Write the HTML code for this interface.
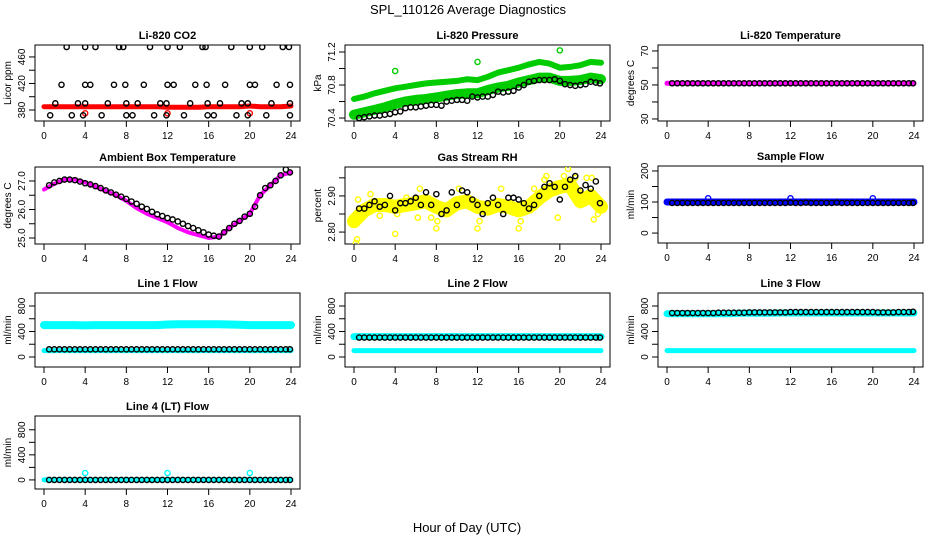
<!DOCTYPE html>
<html><head><meta charset="utf-8"><style>
html,body{margin:0;padding:0;background:#fff;}
svg{display:block;font-family:"Liberation Sans",sans-serif;}
</style></head><body>
<svg id="chart" width="936" height="540" viewBox="0 0 936 540">
<text x="468" y="14" text-anchor="middle" font-size="13">SPL_110126  Average Diagnostics</text>
<text x="467" y="532" text-anchor="middle" font-size="13">Hour of Day (UTC)</text>
</svg>
<script>
const HOURS = [0.5,1,1.5,2,2.5,3,3.5,4,4.5,5,5.5,6,6.5,7,7.5,8,8.5,9,9.5,10,10.5,11,11.5,12,12.5,13,13.5,14,14.5,15,15.5,16,16.5,17,17.5,18,18.5,19,19.5,20,20.5,21,21.5,22,22.5,23,23.5,23.9];
const BAND_HOURS = [0,1,2,3,4,5,6,7,8,9,10,11,12,13,14,15,16,17,18,19,20,21,22,23,24];
const X_TICKS = [0,4,8,12,16,20,24];

const co2Hours = [2.2,4,5,7.3,7.7,10.3,12,13.2,15.4,15.7,18.2,20,21.2,23.2,23.8, 1.7,4,4.5,6.8,7.9,9.7,12,12.6,14.7,15.8,17.6,20,20.5,22.6,23.9, 1.1,3.3,4,6.2,8,9.1,11.3,11.9,14.2,15.9,17.1,19.2,19.8,22.1,23.9, 0.6,2.7,3.8,5.6,8,8.6,10.7,11.9,13.6,15.9,16.5,18.7,19.8,21.6,23.9];
const co2Vals = [475,475,475,475,475,475,475,475,475,475,475,475,475,475,475, 418,418,418,418,418,418,418,418,418,418,418,418,418,418,418, 390,390,390,390,390,390,390,390,390,390,390,390,390,390,390, 372,372,372,372,372,372,372,372,372,372,372,372,372,372,372];
const co2Band = [385,385,385,385,385,385,385,385,385,385,385,385,384,384,384,384,385,385,385,385,386,385,385,385,386];
const co2RedOut = [[4,375],[12,375],[20,375]];

const presBlack = [70.40,70.41,70.42,70.43,70.43,70.44,70.45,70.47,70.48,70.52,70.53,70.53,70.54,70.55,70.56,70.56,70.55,70.60,70.61,70.62,70.62,70.61,70.66,70.65,70.66,70.66,70.68,70.72,70.71,70.72,70.73,70.77,70.80,70.84,70.85,70.86,70.86,70.86,70.87,70.85,70.81,70.80,70.79,70.80,70.81,70.84,70.83,70.82];
const presLow = [70.44,70.47,70.50,70.53,70.57,70.60,70.62,70.63,70.65,70.67,70.69,70.70,70.70,70.74,70.77,70.79,70.83,70.86,70.89,70.89,70.85,70.85,70.86,70.89,70.87];
const presHigh = [70.63,70.66,70.70,70.73,70.76,70.78,70.80,70.82,70.83,70.84,70.85,70.87,70.86,70.90,70.95,70.98,71.01,71.05,71.08,71.06,71.01,71.02,71.04,71.08,71.07];
const presOut = [[4,70.97],[12,71.08],[20,71.22]];

const ltempBand = [51,51,51,51,51,51,51,51,51,51,51,51,51,51,51,51,51,51,51,51,51,51,51,51,51];
const ltempBlack = [51,51,51,51,51,51,51,51,51,51,51,51,51,51,51,51,51,51,51,51,51,51,51,51,51,51,51,51,51,51,51,51,51,51,51,51,51,51,51,51,51,51,51,51,51,51,51,51];

const ambBand = [26.7,26.9,27.05,27.05,26.95,26.8,26.65,26.5,26.3,26.05,25.85,25.7,25.55,25.35,25.2,25.1,25.0,25.05,25.35,25.6,25.85,26.5,26.85,27.2,27.3];
const ambBlack = [26.85,26.95,27.0,27.05,27.05,27.03,26.98,26.92,26.88,26.82,26.75,26.67,26.6,26.52,26.45,26.37,26.28,26.2,26.1,26.02,25.92,25.83,25.77,25.7,25.65,25.58,25.5,25.42,25.35,25.27,25.2,25.12,25.08,25.05,25.2,25.35,25.5,25.6,25.75,25.85,26.1,26.5,26.75,26.85,27.0,27.2,27.4,27.3];

const rhBand = [2.83,2.86,2.875,2.875,2.87,2.875,2.88,2.885,2.87,2.86,2.88,2.885,2.87,2.865,2.875,2.87,2.86,2.87,2.895,2.915,2.925,2.93,2.885,2.9,2.87];
const rhBlack = [2.865,2.865,2.875,2.885,2.87,2.875,2.90,2.86,2.88,2.88,2.885,2.895,2.875,2.91,2.875,2.905,2.85,2.86,2.91,2.875,2.915,2.91,2.89,2.875,2.85,2.88,2.895,2.875,2.85,2.895,2.895,2.89,2.88,2.865,2.875,2.90,2.925,2.935,2.925,2.89,2.925,2.945,2.955,2.915,2.93,2.92,2.94,2.88];
const rhYellowHours = [0,0.2,0.3,0.4,1.6,2.5,3.6,4,4.2,5.1,6.2,6.4,7.5,8,8.1,9.8,10.2,12,12.2,13.5,14.3,15.2,16,16.2,17.5,18.5,18.7,19.8,20.4,20.8,21.5,22.6,23.1,23.3,23.7];
const rhYellow = [2.82,2.77,2.78,2.89,2.905,2.845,2.88,2.795,2.85,2.895,2.84,2.92,2.84,2.81,2.83,2.885,2.92,2.81,2.83,2.86,2.92,2.87,2.81,2.83,2.92,2.945,2.955,2.84,2.955,2.975,2.95,2.95,2.95,2.835,2.85];

const sfBand = [100,100,100,100,100,100,100,100,100,100,100,100,100,100,100,100,100,100,100,100,100,100,100,100,100];
const sfBlack = [97,97,97,97,97,97,97,97,97,97,97,97,97,97,97,97,97,97,97,97,97,97,97,98,97,97,98,97,97,97,97,97,98,97,97,97,97,97,97,97,97,97,97,97,97,97,97,97];
const sfOut = [[4,112],[12,112],[20,112]];

const l1High = [500,500,500,500,495,500,500,500,500,500,500,500,510,515,515,515,515,515,510,505,500,500,500,500,500];
const l1Low = [100,100,100,100,100,100,100,100,100,100,100,100,100,100,100,100,100,100,100,100,100,100,100,100,100];
const l1Black = [120,120,120,120,120,120,120,120,120,120,120,120,120,120,120,120,120,120,120,120,120,120,120,120,120,120,120,120,120,120,120,120,120,120,120,120,120,120,120,120,120,120,120,120,120,120,120,120];

const l2High = [320,320,320,320,320,320,320,320,320,320,320,320,320,320,320,320,320,320,320,320,320,320,320,320,320];
const l2Low = [100,100,100,100,100,100,100,100,100,100,100,100,100,100,100,100,100,100,100,100,100,100,100,100,100];
const l2Black = [305,305,305,305,305,305,305,305,305,305,305,305,305,305,305,305,305,305,305,305,305,305,305,305,305,305,305,305,305,305,305,305,305,305,305,305,305,305,305,305,305,305,305,305,305,305,305,305];

const l3High = [680,680,680,680,680,680,680,685,685,685,685,690,690,690,690,690,690,690,690,690,690,690,690,690,690];
const l3Low = [100,100,100,100,100,100,100,100,100,100,100,100,100,100,100,100,100,100,100,100,100,100,100,100,100];
const l3Black = [690,690,690,690,690,690,690,690,690,695,695,695,695,695,695,700,700,700,700,700,700,700,700,705,705,705,705,705,705,705,705,705,705,705,705,705,705,705,705,705,700,700,700,700,705,705,705,710];

const l4Band = [0,0,0,0,0,0,0,0,0,0,0,0,0,0,0,0,0,0,0,0,0,0,0,0,0];
const l4Black = [0,0,0,0,0,0,0,0,0,0,0,0,0,0,0,0,0,0,0,0,0,0,0,0,0,0,0,0,0,0,0,0,0,0,0,0,0,0,0,0,0,0,0,0,0,0,0,0];
const l4Out = [[4,110],[12,110],[20,110]];

const FLOW_TICKS = [0,200,400,600,800];
const FLOW_LABELS = ["0","","400","","800"];

const NS = "http://www.w3.org/2000/svg";
const svg = document.getElementById('chart');
function mk(tag, attrs, parent){const e=document.createElementNS(NS,tag);for(const k in attrs)e.setAttribute(k,attrs[k]);(parent||svg).appendChild(e);return e;}

function panel(cfg){
  const g = mk('g',{});
  
  
  const L=cfg.left,T=cfg.top,W=265,H=cfg.h;
  const xs = h => L+9+h*(W-18)/24;
  const ys = v => T+H-(v-cfg.ymin)/(cfg.ymax-cfg.ymin)*H;
  const clip = mk('clipPath',{id:'c'+cfg.name},g);
  mk('rect',{x:L,y:T,width:W,height:H},clip);
  const t = mk('text',{x:L+W/2,y:T-6,'text-anchor':'middle','font-size':11,'font-weight':'bold'},g);
  t.textContent = cfg.title;
  
  
  const box = mk('rect',{x:L,y:T,width:W,height:H,fill:'none',stroke:'#000','stroke-width':1},g);
  
  
  X_TICKS.forEach(h=>{
    mk('line',{x1:xs(h),x2:xs(h),y1:T+H,y2:T+H+6,stroke:'#000'},g);
    const tl = mk('text',{x:xs(h),y:T+H+18,'text-anchor':'middle','font-size':10},g);
    tl.textContent = h;
    
    
  });
  cfg.yticks.forEach((v,i)=>{
    mk('line',{x1:L-6,x2:L,y1:ys(v),y2:ys(v),stroke:'#000'},g);
    if(cfg.ylabels[i]){
      const tl = mk('text',{x:L-10,y:ys(v),'text-anchor':'middle','font-size':10,transform:`rotate(-90 ${L-10} ${ys(v)})`},g);
      tl.textContent = cfg.ylabels[i];
      
      
    }
  });
  const yt = mk('text',{x:L-24,y:T+H/2,'text-anchor':'middle','font-size':10,transform:`rotate(-90 ${L-24} ${T+H/2})`},g);
  yt.textContent = cfg.ylabel;
  
  
  const pg = mk('g',{'clip-path':`url(#c${cfg.name})`},g);
  (cfg.bands||[]).forEach(b=>{
    const pts = BAND_HOURS.map((h,i)=>xs(h).toFixed(1)+','+ys(b.vals[i]).toFixed(1)).join(' ');
    const pl = mk('polyline',{points:pts,fill:'none',stroke:b.color,'stroke-width':b.w,'stroke-linejoin':'round','stroke-linecap':'round'},pg);
    
    
  });
  (cfg.pts||[]).forEach(s=>{
    s.x.forEach((h,i)=>{
      if(s.y[i]===undefined) return;
      const c = mk('circle',{cx:xs(h),cy:ys(s.y[i]),r:2.6,fill:'none',stroke:s.color,'stroke-width':1.4},pg);
      
      
    });
  });
}
const oh = a=>a.map(p=>p[0]), ov = a=>a.map(p=>p[1]);
const C1=35,C2=345,C3=658;
panel({name:'co2-panel',title:'Li-820 CO2',left:C1,top:45,h:76,ymin:363.4,ymax:478,yticks:[380,400,420,440,460],ylabels:['380','','420','','460'],ylabel:'Licor ppm',
  bands:[{vals:co2Band,color:'#ff0000',w:5}],pts:[{x:oh(co2RedOut),y:ov(co2RedOut),color:'#ff0000'},{x:co2Hours,y:co2Vals,color:'#000'}]});
panel({name:'pressure-panel',title:'Li-820 Pressure',left:C2,top:45,h:76,ymin:70.364,ymax:71.285,yticks:[70.4,70.6,70.8,71.0,71.2],ylabels:['70.4','','70.8','','71.2'],ylabel:'kPa',
  bands:[{vals:presHigh,color:'#00cc00',w:6},{vals:presLow,color:'#00cc00',w:10}],pts:[{x:oh(presOut),y:ov(presOut),color:'#00cc00'},{x:HOURS,y:presBlack,color:'#000'}]});
panel({name:'licor-temp-panel',title:'Li-820 Temperature',left:C3,top:45,h:76,ymin:28.8,ymax:73.5,yticks:[30,40,50,60,70],ylabels:['30','','50','','70'],ylabel:'degrees C',
  bands:[{vals:ltempBand,color:'#ff00ff',w:5}],pts:[{x:HOURS,y:ltempBlack,color:'#000'}]});
panel({name:'ambient-temp-panel',title:'Ambient Box Temperature',left:C1,top:167,h:77,ymin:24.79,ymax:27.49,yticks:[25,25.5,26,26.5,27],ylabels:['25.0','','26.0','','27.0'],ylabel:'degrees C',
  bands:[{vals:ambBand,color:'#ff00ff',w:4}],pts:[{x:HOURS,y:ambBlack,color:'#000'}]});
panel({name:'rh-panel',title:'Gas Stream RH',left:C2,top:167,h:77,ymin:2.767,ymax:2.98,yticks:[2.80,2.85,2.90,2.95],ylabels:['2.80','','2.90',''],ylabel:'percent',
  bands:[{vals:rhBand,color:'#ffff00',w:14}],pts:[{x:rhYellowHours,y:rhYellow,color:'#ffff00'},{x:HOURS,y:rhBlack,color:'#000'}]});
panel({name:'sample-flow-panel',title:'Sample Flow',left:C3,top:166,h:77,ymin:-32,ymax:216,yticks:[0,50,100,150,200],ylabels:['0','','100','','200'],ylabel:'ml/min',
  bands:[{vals:sfBand,color:'#0000ff',w:7}],pts:[{x:oh(sfOut),y:ov(sfOut),color:'#0000ff'},{x:HOURS,y:sfBlack,color:'#000'}]});
panel({name:'line1-flow-panel',title:'Line 1 Flow',left:C1,top:293,h:74,ymin:-157,ymax:1004,yticks:FLOW_TICKS,ylabels:FLOW_LABELS,ylabel:'ml/min',
  bands:[{vals:l1High,color:'#00ffff',w:8},{vals:l1Low,color:'#00ffff',w:5}],pts:[{x:HOURS,y:l1Black,color:'#000'}]});
panel({name:'line2-flow-panel',title:'Line 2 Flow',left:C2,top:293,h:74,ymin:-157,ymax:1004,yticks:FLOW_TICKS,ylabels:FLOW_LABELS,ylabel:'ml/min',
  bands:[{vals:l2High,color:'#00ffff',w:7},{vals:l2Low,color:'#00ffff',w:5}],pts:[{x:HOURS,y:l2Black,color:'#000'}]});
panel({name:'line3-flow-panel',title:'Line 3 Flow',left:C3,top:293,h:74,ymin:-157,ymax:1004,yticks:FLOW_TICKS,ylabels:FLOW_LABELS,ylabel:'ml/min',
  bands:[{vals:l3High,color:'#00ffff',w:7},{vals:l3Low,color:'#00ffff',w:5}],pts:[{x:HOURS,y:l3Black,color:'#000'}]});
panel({name:'line4-flow-panel',title:'Line 4 (LT) Flow',left:C1,top:416,h:73,ymin:-145,ymax:1020,yticks:FLOW_TICKS,ylabels:FLOW_LABELS,ylabel:'ml/min',
  bands:[{vals:l4Band,color:'#00ffff',w:5}],pts:[{x:oh(l4Out),y:ov(l4Out),color:'#00ffff'},{x:HOURS,y:l4Black,color:'#000'}]});
</script>
</body></html>
